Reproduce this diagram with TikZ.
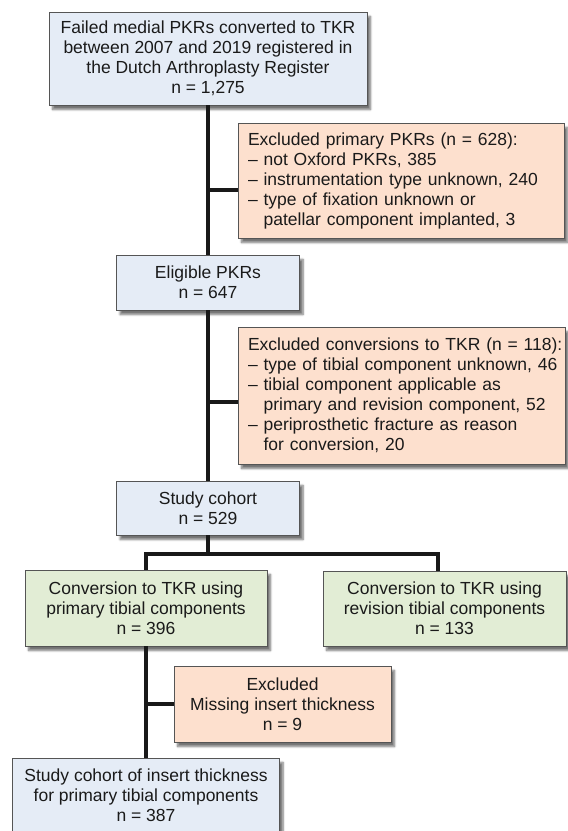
\documentclass[tikz,border=0pt]{standalone}
\usepackage{fontspec}
\setmainfont{Liberation Sans}
\usetikzlibrary{shadows,shadows.blur}
\definecolor{bluefill}{HTML}{E5ECF6}
\definecolor{orangefill}{HTML}{FDE0CE}
\definecolor{greenfill}{HTML}{E2EDD5}
\definecolor{boxborder}{HTML}{555555}
\definecolor{textcol}{HTML}{1A1A1A}
\tikzset{
  box/.style={draw=boxborder, line width=0.8pt, text=textcol, inner sep=0pt,
    font=\fontsize{17.5}{20}\selectfont,
    blur shadow={shadow xshift=3.5pt, shadow yshift=-4.5pt, shadow blur steps=6, shadow opacity=55}},
  bluebox/.style={box, fill=bluefill, align=center},
  greenbox/.style={box, fill=greenfill, align=center},
  orangebox/.style={box, fill=orangefill, align=center},
  exclbox/.style={box, fill=orangefill, align=left, inner xsep=10pt},
  conn/.style={line width=3.3pt, draw=black!90}
}
\begin{document}
\begin{tikzpicture}[x=1pt,y=-1pt]
\useasboundingbox (0,0) rectangle (568,831);
\coordinate (s1) at (208,190);
\coordinate (s2) at (208,402);
\coordinate (split) at (208,554);
\coordinate (sl) at (146,554);
\coordinate (sr) at (438,554);
\coordinate (s3) at (146,704);

\node[bluebox, minimum width=318pt, minimum height=93pt] (b1) at (208,58.5)
  {Failed medial PKRs converted to TKR\\between 2007 and 2019 registered in\\the Dutch Arthroplasty Register\\n = 1,275};
\node[exclbox, text width=306pt, minimum height=115pt] (e1) at (401,180.5)
  {\mbox{Excluded primary PKRs (n = 628):}\\
   \mbox{– not Oxford PKRs, 385}\\
   \mbox{– instrumentation type unknown, 240}\\
   \mbox{– type of fixation unknown or}\\
   \mbox{\phantom{– }patellar component implanted, 3}};
\node[bluebox, minimum width=183pt, minimum height=55pt] (b2) at (208,282.5)
  {Eligible PKRs\\n = 647};
\node[exclbox, text width=307pt, minimum height=137pt] (e2) at (401.5,395.5)
  {\mbox{Excluded conversions to TKR (n = 118):}\\
   \mbox{– type of tibial component unknown, 46}\\
   \mbox{– tibial component applicable as}\\
   \mbox{\phantom{– }primary and revision component, 52}\\
   \mbox{– periprosthetic fracture as reason}\\
   \mbox{\phantom{– }for conversion, 20}};
\node[bluebox, minimum width=183pt, minimum height=54pt] (b3) at (208,508)
  {Study cohort\\n = 529};
\node[greenbox, minimum width=242pt, minimum height=76pt] (g1) at (146,608)
  {Conversion to TKR using\\primary tibial components\\n = 396};
\node[greenbox, minimum width=243pt, minimum height=75pt] (g2) at (444.5,608.5)
  {Conversion to TKR using\\revision tibial components\\n = 133};
\node[orangebox, minimum width=217pt, minimum height=76pt] (e3) at (282.5,704)
  {Excluded\\Missing insert thickness\\n = 9};
\node[bluebox, minimum width=267pt, minimum height=74pt] (b4) at (146,795)
  {Study cohort of insert thickness\\for primary tibial components\\n = 387};

\draw[conn] (b1.south) -- (b2.north);
\draw[conn] (s1) -- (e1.west |- s1);
\draw[conn] (b2.south) -- (b3.north);
\draw[conn] (s2) -- (e2.west |- s2);
\draw[conn] (b3.south) -- (split);
\draw[conn, line join=miter] (g1.north -| sl) -- (sl) -- (sr) -- (g2.north -| sr);
\draw[conn] (g1.south) -- (b4.north);
\draw[conn] (s3) -- (e3.west);
\end{tikzpicture}
\end{document}
